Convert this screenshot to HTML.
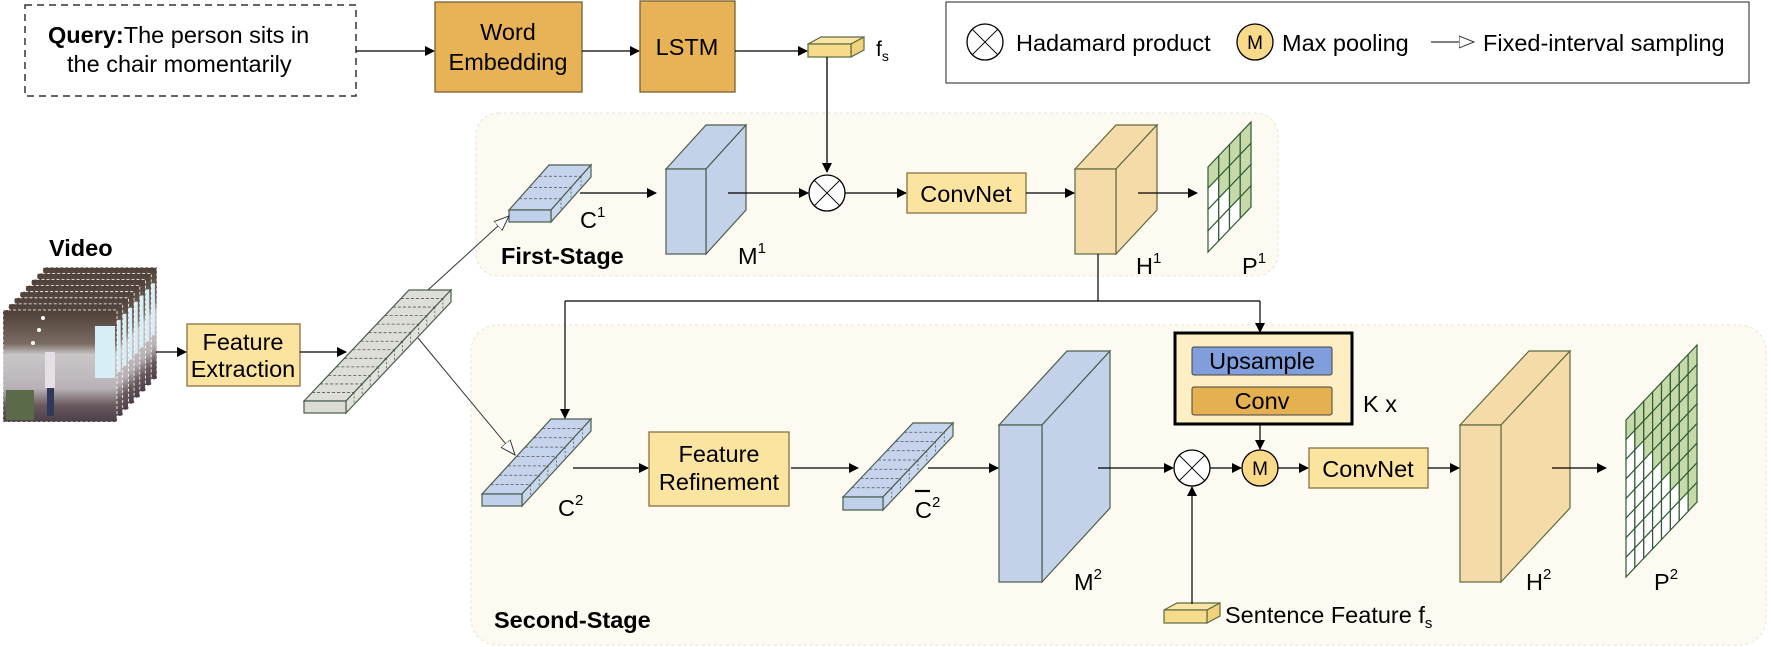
<!DOCTYPE html>
<html><head><meta charset="utf-8"><style>
html,body{margin:0;padding:0;background:#fff;}
svg{display:block;font-family:"Liberation Sans",Arial,sans-serif;}
</style></head><body>
<svg id="s" width="1771" height="647" viewBox="0 0 1771 647" xmlns="http://www.w3.org/2000/svg" font-size="23.5">
<defs>
<marker id="a" markerWidth="10" markerHeight="10" refX="9" refY="5" orient="auto" markerUnits="userSpaceOnUse"><path d="M0,0 L10,5 L0,10 z" fill="#000"/></marker>
<marker id="o" markerWidth="16" markerHeight="14" refX="15" refY="7" orient="auto" markerUnits="userSpaceOnUse"><path d="M0,1 L15,7 L0,13 z" fill="#fff" stroke="#333" stroke-width="1"/></marker>
<linearGradient id="vid" x1="0" y1="0" x2="0" y2="1">
<stop offset="0" stop-color="#4e4038"/><stop offset="0.3" stop-color="#7a6c62"/><stop offset="0.4" stop-color="#c9c6c8"/><stop offset="0.7" stop-color="#b8b2b6"/><stop offset="0.85" stop-color="#6a5a5e"/><stop offset="1" stop-color="#4a3e48"/></linearGradient>
</defs>
<!-- panels -->
<rect x="476" y="113" width="802" height="163" rx="22" fill="#fdfbf1" stroke="#e6e2d6" stroke-dasharray="3,3"/>
<rect x="471" y="325" width="1295" height="320" rx="26" fill="#fdfbf1" stroke="#e6e2d6" stroke-dasharray="3,3"/>
<!-- query -->
<rect x="25" y="5" width="331" height="91" fill="#fff" stroke="#333" stroke-width="1.5" stroke-dasharray="7,5"/>
<text x="48" y="43"><tspan font-weight="bold">Query:</tspan>The person sits in</text>
<text x="67" y="72">the chair momentarily</text>
<line x1="356" y1="51" x2="434" y2="51" stroke="#000" stroke-width="1.3" marker-end="url(#a)"/>
<rect x="435" y="2" width="147" height="90" fill="#e8b357" stroke="#7a6030" stroke-width="1.3"/>
<text x="508" y="40" text-anchor="middle">Word</text>
<text x="508" y="70" text-anchor="middle">Embedding</text>
<line x1="582" y1="51" x2="639" y2="51" stroke="#000" stroke-width="1.3" marker-end="url(#a)"/>
<rect x="640" y="1" width="95" height="91" fill="#e8b357" stroke="#7a6030" stroke-width="1.3"/>
<text x="687" y="55" text-anchor="middle">LSTM</text>
<line x1="735" y1="51" x2="807" y2="51" stroke="#000" stroke-width="1.3" marker-end="url(#a)"/>
<g id="cubes"></g>
<text x="876" y="56" font-size="21">f<tspan font-size="14" dy="5">s</tspan></text>
<line x1="827" y1="57" x2="827" y2="172" stroke="#000" stroke-width="1.3" marker-end="url(#a)"/>
<!-- legend -->
<rect x="946" y="2" width="803" height="81" fill="#fff" stroke="#555" stroke-width="1.3"/>
<circle cx="985" cy="42" r="18" fill="#fff" stroke="#000" stroke-width="1.3"/>
<path d="M972.3,29.3 L997.7,54.7 M997.7,29.3 L972.3,54.7" stroke="#000" stroke-width="1"/>
<text x="1016" y="51">Hadamard product</text>
<circle cx="1255" cy="42" r="18" fill="#f9d98a" stroke="#000" stroke-width="1.3"/>
<text x="1255" y="49" font-size="19" text-anchor="middle">M</text>
<text x="1282" y="51">Max pooling</text>
<line x1="1431" y1="42" x2="1474" y2="42" stroke="#333" stroke-width="1.2" marker-end="url(#o)"/>
<text x="1483" y="51">Fixed-interval sampling</text>
<!-- first stage -->
<text x="580" y="228">C<tspan font-size="15" dy="-11">1</tspan></text>
<line x1="580" y1="193" x2="656" y2="193" stroke="#000" stroke-width="1.3" marker-end="url(#a)"/>
<text x="738" y="264">M<tspan font-size="15" dy="-11">1</tspan></text>
<line x1="728" y1="193" x2="808" y2="193" stroke="#000" stroke-width="1.3" marker-end="url(#a)"/>
<circle cx="827" cy="193" r="18" fill="#fff" stroke="#000" stroke-width="1.3"/>
<path d="M814.3,180.3 L839.7,205.7 M839.7,180.3 L814.3,205.7" stroke="#000" stroke-width="1"/>
<line x1="845" y1="193" x2="906" y2="193" stroke="#000" stroke-width="1.3" marker-end="url(#a)"/>
<rect x="907" y="173" width="119" height="40" fill="#fbe3a0" stroke="#8a7040" stroke-width="1.3"/>
<text x="966" y="202" text-anchor="middle">ConvNet</text>
<line x1="1026" y1="193" x2="1074" y2="193" stroke="#000" stroke-width="1.3" marker-end="url(#a)"/>
<line x1="1138" y1="193" x2="1197" y2="193" stroke="#000" stroke-width="1.3" marker-end="url(#a)"/>
<text x="1136" y="274">H<tspan font-size="15" dy="-11">1</tspan></text>
<text x="1242" y="274">P<tspan font-size="15" dy="-11">1</tspan></text>
<text x="501" y="264" font-weight="bold">First-Stage</text>
<text x="49" y="256" font-weight="bold">Video</text>
<!-- video frames -->
<g id="video"></g>
<line x1="156" y1="352" x2="186" y2="352" stroke="#000" stroke-width="1.3" marker-end="url(#a)"/>
<rect x="187" y="324" width="113" height="62" fill="#fbe3a0" stroke="#8a7040" stroke-width="1.3"/>
<text x="243" y="350" text-anchor="middle">Feature</text>
<text x="243" y="377" text-anchor="middle">Extraction</text>
<line x1="300" y1="352" x2="346" y2="352" stroke="#000" stroke-width="1.3" marker-end="url(#a)"/>
<line x1="428" y1="290" x2="509" y2="216" stroke="#333" stroke-width="1" marker-end="url(#o)"/>
<line x1="418" y1="338" x2="515" y2="455" stroke="#333" stroke-width="1" marker-end="url(#o)"/>
<!-- feedback line -->
<path d="M1098,254 L1098,301" stroke="#000" stroke-width="1.2" fill="none"/>
<path d="M565,301 L1260,301" stroke="#000" stroke-width="1.2" fill="none"/>
<line x1="565" y1="301" x2="565" y2="418" stroke="#000" stroke-width="1.2" marker-end="url(#a)"/>
<line x1="1260" y1="301" x2="1260" y2="332" stroke="#000" stroke-width="1.2" marker-end="url(#a)"/>
<!-- second stage -->
<text x="558" y="516">C<tspan font-size="15" dy="-11">2</tspan></text>
<line x1="573" y1="468" x2="648" y2="468" stroke="#000" stroke-width="1.3" marker-end="url(#a)"/>
<rect x="649" y="432" width="140" height="74" fill="#fbe3a0" stroke="#8a7040" stroke-width="1.3"/>
<text x="719" y="462" text-anchor="middle">Feature</text>
<text x="719" y="490" text-anchor="middle">Refinement</text>
<line x1="791" y1="468" x2="858" y2="468" stroke="#000" stroke-width="1.3" marker-end="url(#a)"/>
<text x="915" y="518">C<tspan font-size="15" dy="-11">2</tspan></text>
<line x1="915" y1="491" x2="930" y2="491" stroke="#000" stroke-width="2.2"/>
<line x1="928" y1="468" x2="998" y2="468" stroke="#000" stroke-width="1.3" marker-end="url(#a)"/>
<text x="1074" y="590">M<tspan font-size="15" dy="-11">2</tspan></text>
<line x1="1098" y1="468" x2="1173" y2="468" stroke="#000" stroke-width="1.3" marker-end="url(#a)"/>
<circle cx="1192" cy="468" r="18" fill="#fff" stroke="#000" stroke-width="1.3"/>
<path d="M1179.3,455.3 L1204.7,480.7 M1204.7,455.3 L1179.3,480.7" stroke="#000" stroke-width="1"/>
<line x1="1192" y1="604" x2="1192" y2="487" stroke="#000" stroke-width="1.2" marker-end="url(#a)"/>
<line x1="1210" y1="468" x2="1241" y2="468" stroke="#000" stroke-width="1.3" marker-end="url(#a)"/>
<rect x="1175" y="333" width="177" height="91" fill="#fdeec4" stroke="#000" stroke-width="3"/>
<rect x="1192" y="347" width="140" height="28" rx="2" fill="#7f9edb" stroke="#444" stroke-width="1"/>
<text x="1262" y="369" text-anchor="middle">Upsample</text>
<rect x="1192" y="387" width="140" height="28" rx="2" fill="#e5b04f" stroke="#444" stroke-width="1"/>
<text x="1262" y="409" text-anchor="middle">Conv</text>
<text x="1363" y="412">K x</text>
<line x1="1260" y1="424" x2="1260" y2="449" stroke="#000" stroke-width="1.2" marker-end="url(#a)"/>
<circle cx="1260" cy="468" r="18" fill="#f9d98a" stroke="#000" stroke-width="1.3"/>
<text x="1260" y="475" font-size="19" text-anchor="middle">M</text>
<line x1="1278" y1="468" x2="1308" y2="468" stroke="#000" stroke-width="1.3" marker-end="url(#a)"/>
<rect x="1309" y="448" width="119" height="40" fill="#fbe3a0" stroke="#8a7040" stroke-width="1.3"/>
<text x="1368" y="477" text-anchor="middle">ConvNet</text>
<line x1="1428" y1="468" x2="1459" y2="468" stroke="#000" stroke-width="1.3" marker-end="url(#a)"/>
<line x1="1552" y1="468" x2="1606" y2="468" stroke="#000" stroke-width="1.3" marker-end="url(#a)"/>
<text x="1526" y="590">H<tspan font-size="15" dy="-11">2</tspan></text>
<text x="1654" y="590">P<tspan font-size="15" dy="-11">2</tspan></text>
<text x="1225" y="623">Sentence Feature  f<tspan font-size="15" dy="5">s</tspan></text>
<text x="494" y="628" font-weight="bold">Second-Stage</text>
<g id="grids"></g>
</svg>
<script>
var NS="http://www.w3.org/2000/svg";
function el(p,t,a){var e=document.createElementNS(NS,t);for(var k in a)e.setAttribute(k,a[k]);p.appendChild(e);return e;}
var C=document.getElementById('cubes');
function cube(x,y,w,h,dx,dy,fill,side,top,stroke,dashN){
 var g=el(C,'g',{});
 el(g,'polygon',{points:[x,y,x+dx,y+dy,x+w+dx,y+dy,x+w,y].join(' '),fill:top,stroke:stroke,'stroke-width':1.2});
 el(g,'polygon',{points:[x+w,y,x+w+dx,y+dy,x+w+dx,y+h+dy,x+w,y+h].join(' '),fill:side,stroke:stroke,'stroke-width':1.2});
 if(dashN){for(var i=1;i<dashN;i++){var f=i/dashN;el(g,'line',{x1:x+dx*f,y1:y+dy*f,x2:x+w+dx*f,y2:y+dy*f,stroke:'#555','stroke-width':0.8,'stroke-dasharray':'3,2'});
  el(g,'line',{x1:x+w+dx*f,y1:y+dy*f,x2:x+w+dx*f,y2:y+h+dy*f,stroke:'#555','stroke-width':0.8,'stroke-dasharray':'2,2'});}}
 el(g,'rect',{x:x,y:y,width:w,height:h,fill:fill,stroke:stroke,'stroke-width':1.2});
}
var bs='#4a5e4e';
cube(808,44,43,13,13,-7,'#f6dc8a','#f0d27a','#f9e6a6','#5d6a40',0);
cube(1164,610,43,13,13,-7,'#f6dc8a','#f0d27a','#f9e6a6','#5d6a40',0);
cube(509,210,42,12,40,-45,'#bfd0ea','#c9d7ee','#c5d4ec',bs,4);
cube(304,401,42,12,105,-111,'#dcdcd6','#e2e2dc','#deded8',bs,13);
cube(482,494,40,12,69,-75,'#bfd0ea','#c9d7ee','#c5d4ec',bs,8);
cube(843,497,40,13,70,-74,'#bfd0ea','#c9d7ee','#c5d4ec',bs,8);
cube(666,169,40,85,40,-44,'#c3d2e8','#c3d2e8','#c3d2e8',bs,0);
cube(1075,169,41,85,41,-44,'#f5dba8','#f5dba8','#f5dba8','#5d6a40',0);
cube(999,425,43,157,68,-74,'#c3d2e8','#c3d2e8','#c3d2e8',bs,0);
cube(1460,425,41,157,69,-74,'#f5dba8','#f5dba8','#f5dba8','#5d6a40',0);
var G=document.getElementById('grids');
function grid(x,yt,h,dx,dy,n){
 var cw=dx/n,ch=h/n,sy=dy/n;
 for(var c=0;c<n;c++)for(var r=0;r<n;r++){
  var x0=x+c*cw,y0=yt+c*sy+r*ch;
  el(G,'polygon',{points:[x0,y0,x0+cw,y0+sy,x0+cw,y0+sy+ch,x0,y0+ch].join(' '),fill:r<=c?'#c6d9a8':'#fff',stroke:'#2f5a34','stroke-width':1.2});
 }
}
grid(1208,167,85,43,-45,4);
grid(1626,420,157,71,-75,8);
var V=document.getElementById('video');
for(var i=7;i>=0;i--){
 var ox=3+i*5.7,oy=310-i*6.1;
 var g=el(V,'g',{});
 el(g,'rect',{x:ox,y:oy,width:114,height:112,fill:'url(#vid)',stroke:'#fff','stroke-width':0.8,'stroke-dasharray':'3,2'});
 el(g,'rect',{x:ox+92,y:oy+16,width:20,height:52,fill:'#d8eef6'});
 el(g,'rect',{x:ox+42,y:oy+42,width:10,height:36,fill:'#e6e0e6'});
 el(g,'rect',{x:ox+44,y:oy+78,width:7,height:28,fill:'#2e3a5a'});
 el(g,'rect',{x:ox+3,y:oy+80,width:28,height:30,fill:'#5b6a48'});
 el(g,'circle',{cx:ox+40,cy:oy+8,r:2,fill:'#fff'});
 el(g,'circle',{cx:ox+36,cy:oy+20,r:2,fill:'#fff'});
 el(g,'circle',{cx:ox+30,cy:oy+33,r:2,fill:'#fff'});
}
</script>
</body></html>
